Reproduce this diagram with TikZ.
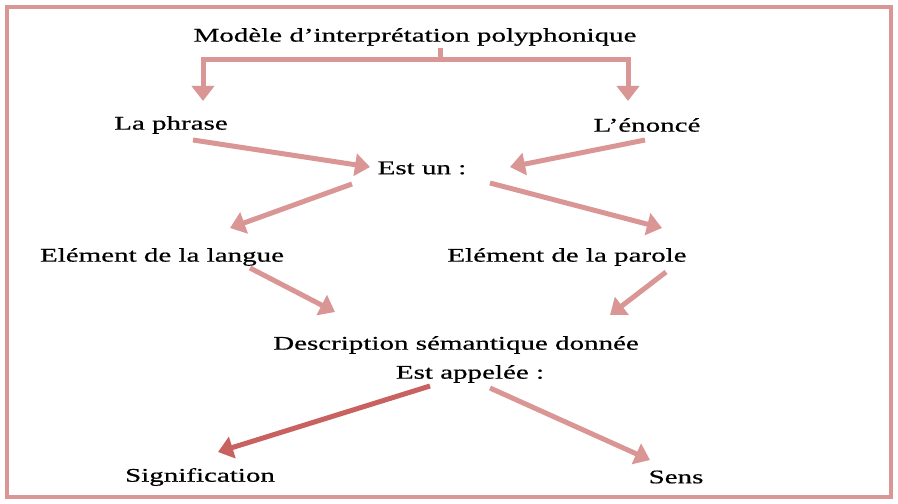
\documentclass[tikz,border=0pt]{standalone}
\usepackage{fontspec}
\setmainfont{Liberation Serif}[FakeStretch=1.5,FakeBold=0.6]
\usetikzlibrary{arrows.meta}
\definecolor{pinkline}{RGB}{217,150,148}
\definecolor{darkpink}{RGB}{200,98,96}

\begin{document}
\begin{tikzpicture}[
   lbl/.style={draw=none, inner sep=1pt, font=\fontsize{11}{13}\selectfont},
   link/.style={pinkline, line width=0.1cm},
   arr/.style={link, -{Triangle[length=0.3cm,width=0.44cm]}},
   darr/.style={arr, darkpink}
]
   \useasboundingbox (0,0) rectangle (17.96,-10.08);
   \draw [pinkline, line width=0.08cm] (0.14,-0.14) rectangle (17.82,-9.94);

   % the labels
   \node [lbl] (modele) at (8.3, -0.74) {Modèle d’interprétation polyphonique};
   \node [lbl] (phrase) at (3.42, -2.5) {La phrase};
   \node [lbl] (enonce) at (12.94, -2.5) {L’énoncé};
   \node [lbl] (estun) at (8.44, -3.36) {Est un :};
   \node [lbl] (langue) at (3.24, -5.14) {Elément de la langue};
   \node [lbl] (parole) at (11.34, -5.14) {Elément de la parole};
   \node [lbl] (descr) at (9.12, -6.9) {Description sémantique donnée};
   \node [lbl] (appelee) at (9.4, -7.48) {Est appelée :};
   \node [lbl] (signif) at (4.0, -9.54) {Signification};
   \node [lbl] (sens) at (13.52, -9.54) {Sens};

   % arrow ends
   \coordinate (split) at (8.8, -1.2);
   \coordinate (phraseIn) at (4.06, -2.02);
   \coordinate (enonceIn) at (12.56, -2.02);
   \coordinate (phraseOut) at (3.86, -2.8);
   \coordinate (enonceOut) at (12.9, -2.8);
   \coordinate (estunInL) at (7.4, -3.34);
   \coordinate (estunInR) at (10.2, -3.34);
   \coordinate (estunOutL) at (7.04, -3.68);
   \coordinate (estunOutR) at (9.8, -3.66);
   \coordinate (langueIn) at (4.6, -4.56);
   \coordinate (paroleIn) at (13.24, -4.56);
   \coordinate (langueOut) at (5.0, -5.36);
   \coordinate (paroleOut) at (13.32, -5.44);
   \coordinate (descrInL) at (6.7, -6.24);
   \coordinate (descrInR) at (12.2, -6.3);
   \coordinate (appeleeOutL) at (8.6, -7.72);
   \coordinate (appeleeOutR) at (9.8, -7.76);
   \coordinate (signifIn) at (4.36, -9.04);
   \coordinate (sensIn) at (13.0, -9.2);

   \draw [link] (split |- modele.south) -- (split);
   \draw [arr] (split) -| (phraseIn);
   \draw [arr] (split) -| (enonceIn);

   \draw [arr] (phraseOut) -- (estunInL);
   \draw [arr] (enonceOut) -- (estunInR);
   \draw [arr] (estunOutL) -- (langueIn);
   \draw [arr] (estunOutR) -- (paroleIn);
   \draw [arr] (langueOut) -- (descrInL);
   \draw [arr] (paroleOut) -- (descrInR);
   \draw [darr] (appeleeOutL) -- (signifIn);
   \draw [arr] (appeleeOutR) -- (sensIn);
\end{tikzpicture}
\end{document}
